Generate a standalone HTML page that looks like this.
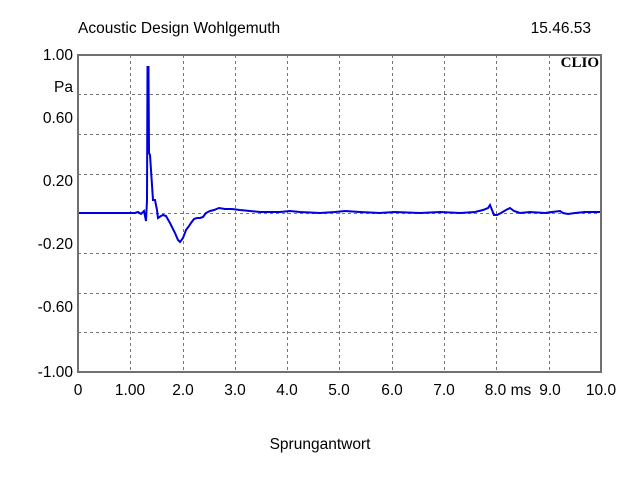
<!DOCTYPE html>
<html><head><style>body{margin:0;background:#fff}svg{display:block}</style></head><body>
<svg width="640" height="480" xmlns="http://www.w3.org/2000/svg" font-family="Liberation Sans, sans-serif" font-size="15.5">
<rect width="640" height="480" fill="#fff"/>
<g stroke="#777" stroke-width="1" stroke-dasharray="3,3">
<line x1="130.5" y1="55" x2="130.5" y2="372"/><line x1="183.5" y1="55" x2="183.5" y2="372"/>
<line x1="235.5" y1="55" x2="235.5" y2="372"/><line x1="287.5" y1="55" x2="287.5" y2="372"/>
<line x1="339.5" y1="55" x2="339.5" y2="372"/><line x1="392.5" y1="55" x2="392.5" y2="372"/>
<line x1="444.5" y1="55" x2="444.5" y2="372"/><line x1="496.5" y1="55" x2="496.5" y2="372"/>
<line x1="549.5" y1="55" x2="549.5" y2="372"/>
<line x1="78" y1="94.5" x2="601" y2="94.5"/><line x1="78" y1="134.5" x2="601" y2="134.5"/>
<line x1="78" y1="174.5" x2="601" y2="174.5"/><line x1="78" y1="213.5" x2="601" y2="213.5"/>
<line x1="78" y1="253.5" x2="601" y2="253.5"/><line x1="78" y1="293.5" x2="601" y2="293.5"/>
<line x1="78" y1="332.5" x2="601" y2="332.5"/>
</g>
<rect x="78" y="55" width="523" height="317" fill="none" stroke="#707070" stroke-width="2"/>
<polyline fill="none" stroke="#0000dd" stroke-width="2" points="79,213 135,213 138,212 141,214 144,211 145,216 146,221 147,200 147.5,67 148.5,67 149,153 150,155 152,185 153,200 155,200 157,210 158,218 161,216 163,215 166,216 170,223 175,233 178,240 180,242 183,238 186,230 189,226 191,223 194,219 197,218 200,218 203,217 206,213 210,211 214,210 219,208 225,209 232,209 240,210 250,211 260,212 280,212 290,211 300,212 320,213 335,212 345,211 360,212 380,213 395,212 420,213 440,212 460,213 475,212 483,210 488,208 490,205 492,210 494,215 497,215 501,213 506,210 510,208 514,211 520,213 530,212 545,213 552,212 560,211 563,213 568,214 575,213 585,212 600,212"/>
<text x="78" y="33" fill="#000">Acoustic Design Wohlgemuth</text>
<text x="591" y="33" fill="#000" text-anchor="end">15.46.53</text>
<text x="599" y="67" font-family="Liberation Serif, serif" font-weight="bold" font-size="15" text-anchor="end">CLIO</text>
<g text-anchor="end" fill="#000">
<text x="73" y="60">1.00</text><text x="73" y="92">Pa</text>
<text x="73" y="123">0.60</text><text x="73" y="186">0.20</text>
<text x="73" y="249">-0.20</text><text x="73" y="312">-0.60</text><text x="73" y="377">-1.00</text>
</g>
<g text-anchor="middle" fill="#000">
<text x="78" y="395">0</text><text x="130" y="395">1.00</text><text x="183" y="395">2.0</text>
<text x="235" y="395">3.0</text><text x="287" y="395">4.0</text><text x="339" y="395">5.0</text>
<text x="392" y="395">6.0</text><text x="444" y="395">7.0</text><text x="508" y="395">8.0 ms</text>
<text x="550" y="395">9.0</text><text x="601" y="395">10.0</text>
<text x="320" y="449">Sprungantwort</text>
</g>
</svg>
</body></html>
